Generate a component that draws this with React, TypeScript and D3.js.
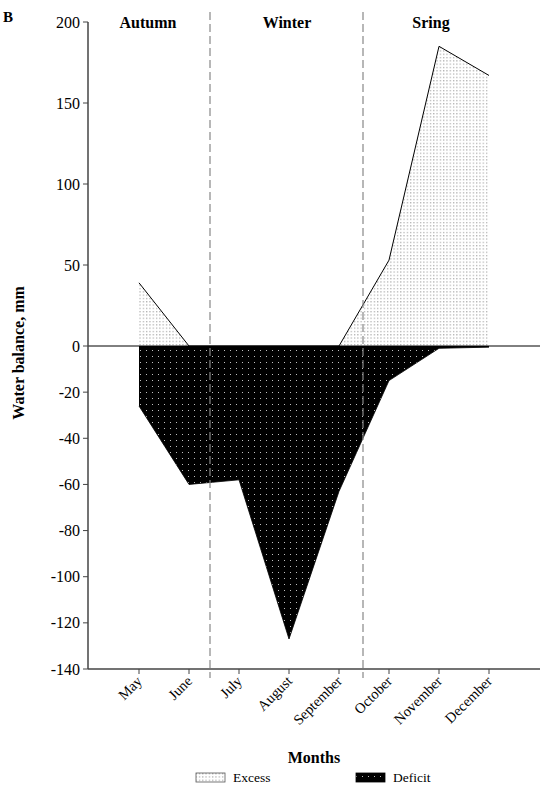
import React from "react";
import * as d3 from "d3";

const months = ["May", "June", "July", "August", "September", "October", "November", "December"];
const excess = [39, 0, 0, 0, 0, 53, 185, 167];
const deficit = [-26, -60, -58, -127, -63, -15, -1, -0.5];
const yTicks = [-140, -120, -100, -80, -60, -40, -20, 0, 50, 100, 150, 200];
const seasons = ["Autumn", "Winter", "Sring"];
const seasonCenters = [0.18, 2.96, 5.84];
const seasonBreaks = [1.42, 4.48];

const SERIF = "'Liberation Serif', serif";

export default function App() {
  const W = 550, H = 790;
  const x = d3.scaleLinear().domain([-1, 8]).range([89, 539]);
  const y = d3.scaleLinear().domain([-140, 0, 200]).range([669, 346, 22]);
  const idx = months.map((_, i) => i);

  const areaEx = d3.area<number>().x((i) => x(i)).y0(y(0)).y1((i) => y(excess[i]));
  const lineEx = d3.line<number>().x((i) => x(i)).y((i) => y(excess[i]));
  const areaDef = d3.area<number>().x((i) => x(i)).y0(y(0)).y1((i) => y(deficit[i]));
  const lineDef = d3.line<number>().x((i) => x(i)).y((i) => y(deficit[i]));

  const axisColor = "#444";
  const left = x(-1) - 1;
  const right = x(8) + 1;

  return (
    <svg width={W} height={H} style={{ position: "absolute", left: 0, top: 0, background: "#fff" }}>
      <defs>
        <pattern id="pEx" width="3.3" height="3.3" patternUnits="userSpaceOnUse">
          <rect width="3.3" height="3.3" fill="#fff" />
          <rect x="1" y="1" width="1" height="1" fill="#808080" />
        </pattern>
        <pattern id="pDef" width="6" height="6" patternUnits="userSpaceOnUse">
          <rect width="6" height="6" fill="#000" />
          <rect x="2" y="2" width="1" height="1" fill="#c0c0c0" />
        </pattern>
      </defs>

      <text x={3} y={22} fontFamily={SERIF} fontWeight="bold" fontSize={15}>B</text>

      {/* areas */}
      <path d={areaEx(idx) || ""} fill="url(#pEx)" />
      <path d={areaDef(idx) || ""} fill="url(#pDef)" />
      <path d={lineDef(idx) || ""} fill="none" stroke="#000" strokeWidth={0.8} />
      <path d={lineEx(idx) || ""} fill="none" stroke="#000" strokeWidth={1} />

      {/* zero line */}
      <line x1={left} x2={right} y1={y(0)} y2={y(0)} stroke="#000" strokeWidth={1} />

      {/* season breaks */}
      {seasonBreaks.map((b, i) => (
        <line key={i} x1={x(b)} x2={x(b)} y1={12} y2={678} stroke="#888" strokeWidth={1.2} strokeDasharray="8,4" />
      ))}
      {seasons.map((s, i) => (
        <text key={s} x={x(seasonCenters[i])} y={28} textAnchor="middle" fontFamily={SERIF} fontWeight="bold" fontSize={16}>{s}</text>
      ))}

      {/* y axis */}
      <line x1={left} x2={left} y1={y(200)} y2={y(-140)} stroke={axisColor} strokeWidth={1.5} />
      {yTicks.map((t) => (
        <g key={t}>
          <line x1={left - 5} x2={left} y1={y(t)} y2={y(t)} stroke={axisColor} strokeWidth={1} />
          <text x={left - 8} y={y(t)} dy="0.35em" textAnchor="end" fontFamily={SERIF} fontSize={16}>{t}</text>
        </g>
      ))}
      <text transform={`translate(24,${y(-3)}) rotate(-90)`} textAnchor="middle" fontFamily={SERIF} fontWeight="bold" fontSize={16}>Water balance, mm</text>

      {/* x axis */}
      <line x1={left} x2={right} y1={y(-140)} y2={y(-140)} stroke={axisColor} strokeWidth={1.5} />
      {months.map((m, i) => (
        <g key={m}>
          <line x1={x(i)} x2={x(i)} y1={y(-140)} y2={y(-140) + 5} stroke={axisColor} strokeWidth={1} />
          <text transform={`translate(${x(i) + 4},${y(-140) + 13}) rotate(-45)`} textAnchor="end" fontFamily={SERIF} fontSize={14.5}>{m}</text>
        </g>
      ))}
      <text x={314} y={763} textAnchor="middle" fontFamily={SERIF} fontWeight="bold" fontSize={16}>Months</text>

      {/* legend */}
      <rect x={196} y={773} width={29} height={9} fill="url(#pEx)" stroke="#555" strokeWidth={0.8} />
      <text x={233} y={782} fontFamily={SERIF} fontSize={13.5}>Excess</text>
      <rect x={356} y={773} width={29} height={9} fill="url(#pDef)" stroke="#000" strokeWidth={0.8} />
      <text x={393} y={782} fontFamily={SERIF} fontSize={13.5}>Deficit</text>
    </svg>
  );
}
